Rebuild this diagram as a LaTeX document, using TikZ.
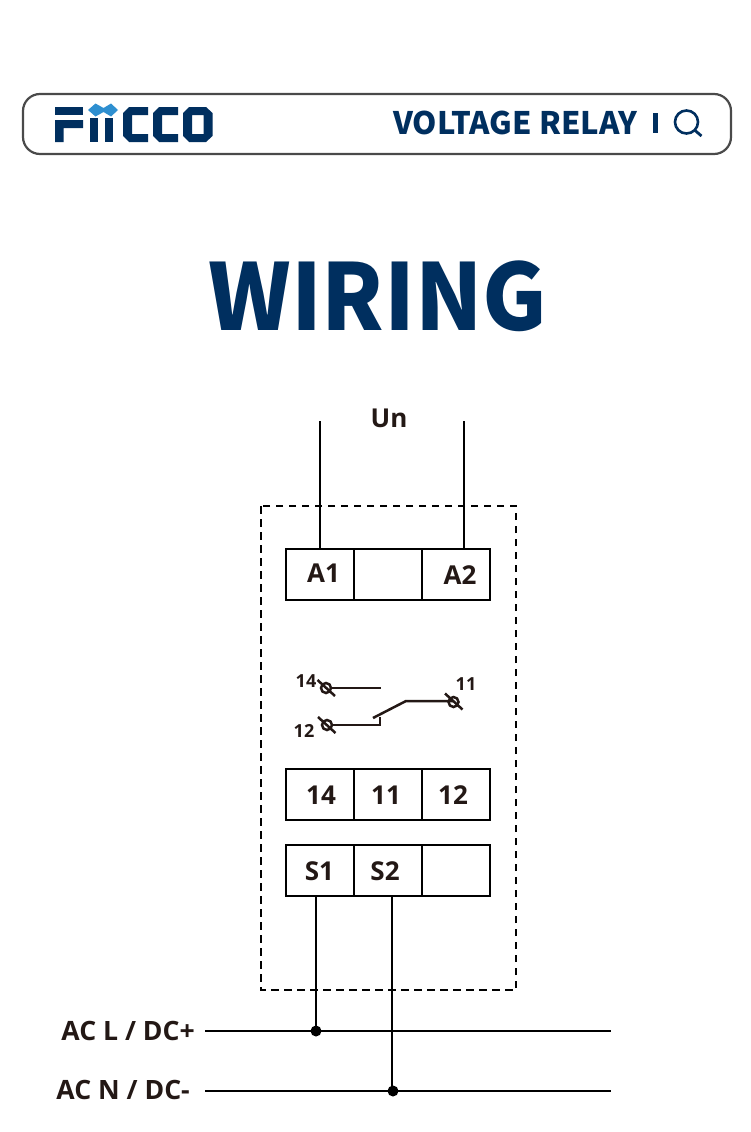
\documentclass[tikz,border=0pt]{standalone}
\usepackage{fontspec}
\setmainfont{Open Sans}
\newfontfamily\headfont{Noto Sans CJK SC}
\newfontfamily\titlefont{Noto Sans CJK SC}[FakeStretch=0.96]
\definecolor{navy}{HTML}{002F5F}
\definecolor{sky}{HTML}{2E8FD0}
\definecolor{ink}{HTML}{231815}
\definecolor{framegray}{HTML}{4A4A4A}
\tikzset{
 cell/.style={draw=black,line width=2pt,minimum width=68pt,minimum height=51pt,inner sep=0pt,outer sep=0pt},
 celltext/.style={font=\bfseries\fontsize{26}{26}\selectfont,text=ink,inner sep=0pt},
 bustext/.style={font=\bfseries\fontsize{26.6}{27}\selectfont,text=ink,inner sep=0pt,anchor=east},
 smalltext/.style={font=\bfseries\fontsize{18}{18}\selectfont,text=ink,inner sep=0pt},
 wire/.style={draw=black,line width=2pt},
 sym/.style={draw=ink,line width=2.5pt},
 dot/.style={circle,fill=black,minimum size=11pt,inner sep=0pt,outer sep=0pt},
 term/.style={circle,draw=ink,line width=2.5pt,minimum size=10pt,inner sep=0pt,outer sep=0pt},
 logo/.style={fill=navy,draw=none},
}
\begin{document}
\begin{tikzpicture}[x=1pt,y=-1pt]
\useasboundingbox (0,0) rectangle (750,1132);
\fill[white] (0,0) rectangle (750,1132);
% header
\draw[framegray,line width=2.2pt,rounded corners=17pt] (23,94) rectangle (731,154);
% logo
\fill[logo] (55,107) -- (83,107) -- (83,115) -- (55,115) -- cycle;
\fill[logo] (55,120) -- (83,120) -- (83,128) -- (63.5,128) -- (63.5,142) -- (55,142) -- cycle;
\fill[logo] (90,118) -- (97.5,118) -- (97.5,142) -- (90,142) -- cycle;
\fill[logo] (105,118) -- (113,118) -- (113,142) -- (105,142) -- cycle;
\fill[sky] (88,110) -- (95.5,103.5) -- (103.5,108) -- (111,103.5) -- (118,110) -- (111,116.5) -- (103.5,112) -- (95.5,116.5) -- cycle;
\fill[logo] (129,107) -- (148,107) -- (148,115) -- (132,115) -- (132,134) -- (148,134) -- (148,142) -- (129,142) -- (123,136) -- (123,113) -- cycle;
\fill[logo] (159,107) -- (178,107) -- (178,115) -- (162,115) -- (162,134) -- (178,134) -- (178,142) -- (159,142) -- (153,136) -- (153,113) -- cycle;
\fill[logo,even odd rule] (189,107) -- (206,107) -- (212.5,113) -- (212.5,136) -- (206,142) -- (189,142) -- (183,136) -- (183,113) -- cycle
 (192,115) -- (192,134) -- (203.5,134) -- (203.5,115) -- cycle;
\node[inner sep=0pt,anchor=base west,text=navy,font=\headfont\bfseries\fontsize{31}{31}\selectfont] (vr) at (393,134) {VOLTAGE RELAY};
\fill[navy] (653.3,113) rectangle (657.7,133);
\draw[navy,line width=2.6pt] (686.5,122) circle (11.5pt);
\draw[navy,line width=2.8pt] (694.5,130) -- (701.5,136);
% title
\node[inner sep=0pt,anchor=base,text=navy,font=\titlefont\bfseries\fontsize{92}{92}\selectfont] (title) at (378,330) {WIRING};
% enclosure
\draw[black,line width=2pt,dash pattern=on 7.5pt off 5.5pt] (261,506) rectangle (516,990);
% terminal cells
\foreach \n/\x/\y in {a1/320/574.5,a0/388/574.5,a2/456/574.5,t14/320/794.5,t11/388/794.5,t12/456/794.5,s1/320/870.5,s2/388/870.5,s0/456/870.5}
  \node[cell] (\n) at (\x,\y) {};
\node[celltext] (la1) at (323.5,573) {A1};
\node[celltext] (la2) at (460,575) {A2};
\node[celltext] (l14) at (321,795) {14};
\node[celltext] (l11) at (386,795) {11};
\node[celltext] (l12) at (453,795) {12};
\node[celltext] (ls1) at (319.5,871.5) {S1};
\node[celltext] (ls2) at (385,871.5) {S2};
\node[celltext] (un) at (389,418) {Un};
% supply wires
\coordinate (una) at (320,421);
\coordinate (unb) at (464,421);
\draw[wire] (una) -- (una |- a1.north);
\draw[wire] (unb) -- (unb |- a2.north);
% buses
\coordinate (lstart) at (205,1031);
\coordinate (lend) at (611,1031);
\coordinate (nstart) at (205,1091);
\coordinate (nend) at (611,1091);
\draw[wire] (lstart) -- (lend);
\draw[wire] (nstart) -- (nend);
\coordinate (jl) at (316,1031);
\coordinate (jn) at (393,1091);
\coordinate (s2w) at (392,1091);
\node[dot] (dl) at (jl) {};
\node[dot] (dn) at (jn) {};
\draw[wire] (dl) -- (dl |- s1.south);
\draw[wire] (s2w) -- (s2w |- s2.south);
\node[bustext] (acl) at (195,1031) {AC L / DC+};
\node[bustext] (acn) at (190,1090) {AC N / DC-};
% contact symbol
\node[term] (c14) at (326,688) {};
\node[term] (c12) at (327,725) {};
\node[term] (c11) at (453.5,702) {};
\draw[sym] (317.5,680) -- (335,696);
\draw[sym] (318,717) -- (335.5,733);
\draw[sym] (445,693.5) -- (462.5,709.5);
\coordinate (c14e) at (381,688);
\coordinate (c12e) at (380,725);
\coordinate (c12u) at (380,717);
\coordinate (arm0) at (373,718);
\coordinate (arm1) at (406,701);
\draw[sym] (c14) -- (c14e);
\draw[sym] (c12) -- (c12e) -- (c12u);
\draw[sym] (arm0) -- (arm1) -- (453.5,701);
\node[smalltext] (n14) at (306,681) {14};
\node[smalltext] (n12) at (304,731) {12};
\node[smalltext] (n11) at (466,684) {11};
\end{tikzpicture}
\end{document}
